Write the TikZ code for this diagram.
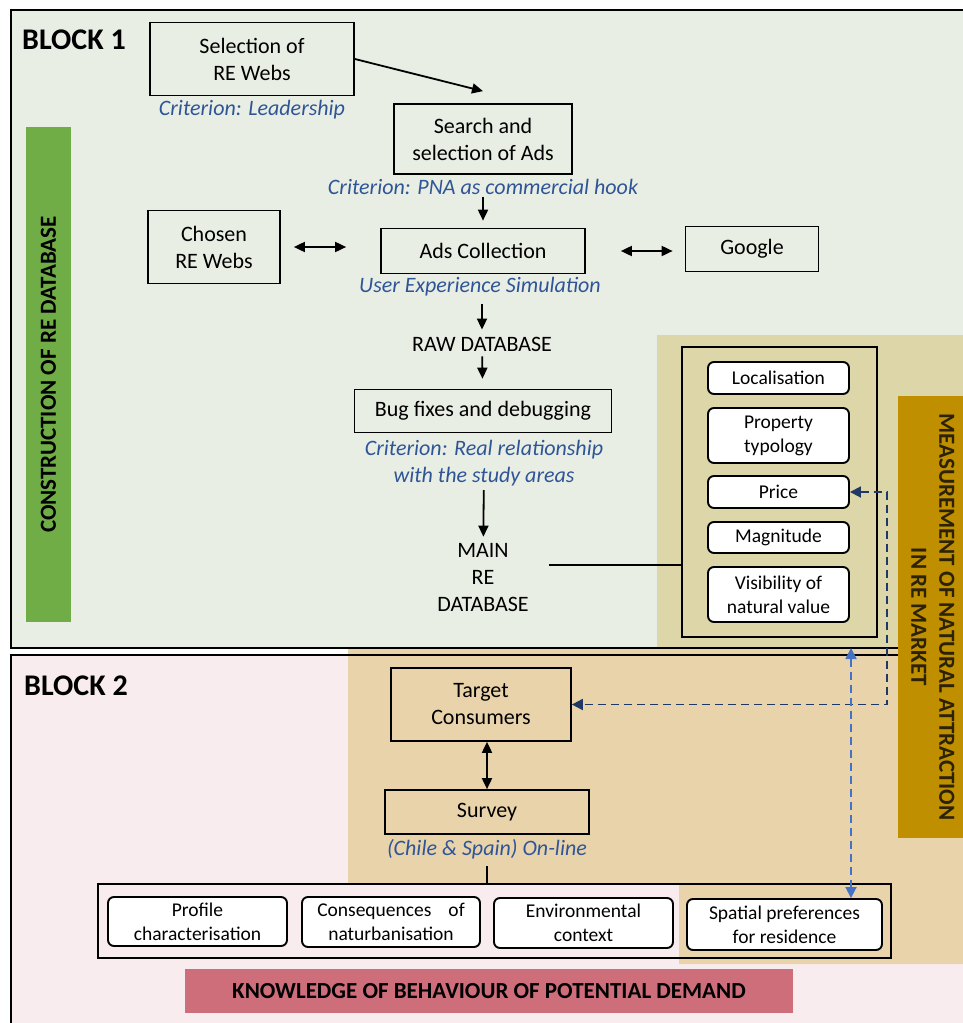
\documentclass[tikz,border=0pt]{standalone}
\usepackage{fontspec}
\setmainfont{Carlito}
\usetikzlibrary{arrows.meta,calc}
\definecolor{blockone}{RGB}{233,238,228}
\definecolor{blocktwo}{RGB}{249,236,238}
\definecolor{tanone}{RGB}{221,214,169}
\definecolor{tantwo}{RGB}{232,211,171}
\definecolor{mustard}{RGB}{191,143,0}
\definecolor{mustardtext}{RGB}{45,34,0}
\definecolor{leafgreen}{RGB}{112,173,71}
\definecolor{rosebar}{RGB}{207,110,123}
\definecolor{critblue}{RGB}{47,85,151}
\definecolor{navydash}{RGB}{32,56,100}
\definecolor{skydash}{RGB}{68,114,196}

\begin{document}
\begin{tikzpicture}[x=1pt,y=-1pt,
  box/.style={draw,line width=1.7pt,inner sep=0pt,align=center,font=\fontsize{22}{27}\selectfont},
  rbox/.style={draw,line width=1.9pt,rounded corners=6pt,fill=white,inner sep=0pt,align=center,font=\fontsize{19.5}{24}\selectfont},
  frame/.style={draw,line width=2pt,inner sep=0pt},
  crit/.style={inner sep=0pt,align=center,text=critblue,font=\fontsize{22}{27}\selectfont\itshape},
  plain/.style={inner sep=0pt,align=center,font=\fontsize{22}{27}\selectfont},
  blocklbl/.style={inner sep=0pt,anchor=west,font=\fontsize{30}{36}\selectfont\bfseries},
  barlbl/.style={inner sep=0pt,align=center,font=\fontsize{23}{28}\selectfont\bfseries},
  arr/.style={line width=1.8pt,-{Triangle[length=11pt,width=10pt]}},
  darr/.style={line width=1.8pt,{Triangle[length=11pt,width=10pt]}-{Triangle[length=11pt,width=10pt]}},
  link/.style={line width=1.8pt},
  ]
  % page and backgrounds
  \clip (0,0) rectangle (963,1023);
  \fill[white] (0,0) rectangle (963,1023);
  \fill[blockone] (11,10) rectangle (975,648);
  \fill[blocktwo] (11,655) rectangle (975,1040);
  \fill[tanone] (657,335) rectangle (975,648);
  \fill[tantwo] (348,648) -- (975,648) -- (975,964) -- (679,964) -- (679,883) -- (348,883) -- cycle;
  \draw[line width=2pt] (11,10) rectangle (975,648);
  \draw[line width=2pt] (11,655) rectangle (975,1040);

  % side bars
  \node[barlbl,fill=leafgreen,rotate=90,minimum width=495,minimum height=45] (conbar) at (48.5,374.5) {CONSTRUCTION OF RE DATABASE};
  \node[barlbl,fill=mustard,text=mustardtext,rotate=-90,minimum width=442,minimum height=70] (measbar) at (933,617) {MEASUREMENT OF NATURAL ATTRACTION\\IN RE MARKET};
  \node[barlbl,fill=rosebar,minimum width=608,minimum height=44] (knowbar) at (489,991) {KNOWLEDGE OF BEHAVIOUR OF POTENTIAL DEMAND};

  \node[blocklbl] (blkonelbl) at (22,40) {BLOCK 1};
  \node[blocklbl] (blktwolbl) at (24,686) {BLOCK 2};

  % --- block 1: building the database
  \node[box,minimum width=204,minimum height=73] (selweb) at (252,59) {Selection of\\RE Webs};
  \node[crit] (critlead) at (252,110) {Criterion: Leadership};
  \node[box,minimum width=178,minimum height=70] (search) at (483,139) {Search and\\selection of Ads};
  \node[crit] (critpna) at (483,187) {Criterion: PNA as commercial hook};
  \node[box,minimum width=204,minimum height=45] (ads) at (483,251) {Ads Collection};
  \node[crit] (critues) at (480,287) {User Experience Simulation};
  \node[box,minimum width=132,minimum height=73] (chosen) at (214,247) {Chosen\\RE Webs};
  \node[box,minimum width=133,minimum height=45] (google) at (752,249) {Google};
  \node[plain] (raw) at (482,344) {RAW DATABASE};
  \node[box,minimum width=257,minimum height=43] (bugfix) at (483,411) {Bug fixes and debugging};
  \node[crit] (critreal) at (484,463) {Criterion: Real relationship\\with the study areas};
  \node[plain] (maindb) at (483,578) {MAIN\\RE\\DATABASE};

  % attribute column
  \node[frame,minimum width=195,minimum height=290] (natbox) at (779.5,492) {};
  \node[rbox,minimum width=141,minimum height=32] (locat) at (778.5,378) {Localisation};
  \node[rbox,minimum width=141,minimum height=55] (proptyp) at (778.5,435.5) {Property\\typology};
  \node[rbox,minimum width=141,minimum height=32] (price) at (778.5,492) {Price};
  \node[rbox,minimum width=141,minimum height=31] (magn) at (778.5,537.5) {Magnitude};
  \node[rbox,minimum width=141,minimum height=55] (visib) at (778.5,594.5) {Visibility of\\natural value};

  % --- block 2: survey of demand
  \node[box,minimum width=180,minimum height=73] (target) at (481,704.5) {Target\\Consumers};
  \node[box,minimum width=204,minimum height=44] (survey) at (487,812) {Survey};
  \node[crit] (critonl) at (487,849) {(Chile \& Spain) On-line};
  \node[frame,minimum width=793,minimum height=74] (prefbox) at (494.5,921) {};
  \node[rbox,minimum width=179,minimum height=49] (profile) at (197.5,921.5) {Profile\\characterisation};
  \node[rbox,minimum width=178,minimum height=50] (conseq) at (391,922) {Consequences\hspace{17pt}of\\naturbanisation};
  \node[rbox,minimum width=179,minimum height=50] (envctx) at (583.5,923) {Environmental\\context};
  \node[rbox,minimum width=195,minimum height=51] (spatial) at (784.5,924.5) {Spatial preferences\\for residence};

  % connectors
  \draw[arr] (selweb.east) -- ([yshift=12]search.north);
  \draw[arr,shorten <=2pt,shorten >=7pt] (critpna) -- (ads);
  \draw[darr,shorten <=13pt,shorten >=34pt] (chosen.east) -- (chosen.east -| ads.west);
  \draw[darr,shorten <=35pt,shorten >=12pt] (ads.east) -- (ads.east -| google.west);
  \draw[arr,shorten <=7pt,shorten >=7pt] (raw.north |- critues.south) -- (raw.north);
  \draw[arr,shorten <=5pt,shorten >=10pt] (raw) -- (bugfix);
  \draw[arr,shorten <=4pt,shorten >=7pt] (critreal) -- (maindb);
  \coordinate (mainout) at (549,565);
  \draw[link] (mainout) -- (mainout -| natbox.west);

  \draw[darr] (survey.north) -- (survey.north |- target.south);
  \draw[link,shorten <=7pt] (critonl.south) -- (critonl.south |- prefbox.north);

  % dashed links between the two blocks
  \coordinate (dashcorner) at (887,704.5);
  \draw[navydash,line width=1.8pt,dash pattern=on 8pt off 5pt,{Triangle[length=11pt,width=11pt]}-{Triangle[length=11pt,width=11pt]}]
    (price.east) -| (dashcorner) -- (dashcorner -| target.east);
  \coordinate (natlink) at (851,648);
  \draw[skydash,line width=1.8pt,dash pattern=on 8pt off 5pt,{Triangle[length=11pt,width=11pt]}-{Triangle[length=11pt,width=11pt]}]
    (natlink) -- (natlink |- spatial.north);
\end{tikzpicture}
\end{document}
